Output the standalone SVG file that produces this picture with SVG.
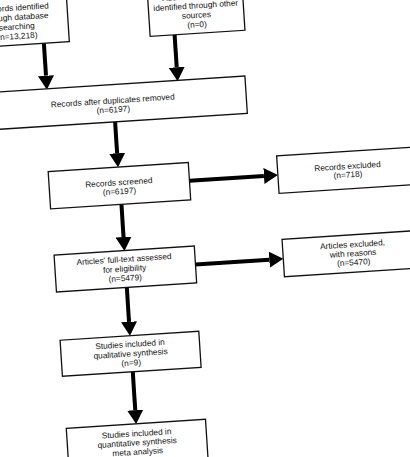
<svg xmlns="http://www.w3.org/2000/svg" width="410" height="457" viewBox="0 0 410 457">
<defs>
<marker id="ah" markerUnits="userSpaceOnUse" markerWidth="14" markerHeight="16" viewBox="0 0 14 16" refX="0" refY="8" orient="auto"><path d="M0,0 L14,8 L0,16 z" fill="#000"/></marker>
</defs>
<style>
.box{fill:#fff;stroke:#111;stroke-width:1.3}
.t{font-family:"Liberation Sans",Arial,sans-serif;font-size:8.3px;fill:#111;text-anchor:middle}
.c{stroke:#000;stroke-width:4;fill:none;marker-end:url(#ah)}
</style>
<rect width="410" height="457" fill="#fff"/>
<g transform="rotate(-3.7)">
<g id="connectors">
<path class="c" d="M41,46 L41,78.5"/>
<path class="c" d="M172,46 L172,78.5"/>
<path class="c" d="M107,129 L107,160.5"/>
<path class="c" d="M177.4,192.6 L252,192.6"/>
<path class="c" d="M108,211.7 L108,244.5"/>
<path class="c" d="M178,276.5 L252,276.5"/>
<path class="c" d="M108,295 L108,329.5"/>
<path class="c" d="M108.5,379.5 L108.5,418"/>
</g>
<g id="n-db">
<rect class="box" x="-37" y="-8" width="103.5" height="54"/>
<text class="t" x="15" y="11.5">Records identified</text>
<text class="t" x="15" y="21">through database</text>
<text class="t" x="15" y="30.5">searching</text>
<text class="t" x="15" y="40">(n=13,218)</text>
</g>
<g id="n-other">
<rect class="box" x="147.5" y="-8" width="95" height="54"/>
<text class="t" x="195" y="11.5">Additional records</text>
<text class="t" x="195" y="21">identified through other</text>
<text class="t" x="195" y="30.5">sources</text>
<text class="t" x="195" y="40">(n=0)</text>
</g>
<g id="n-dup">
<rect class="box" x="-25" y="91.6" width="264.5" height="37.4"/>
<text class="t" x="106" y="110.5">Records after duplicates removed</text>
<text class="t" x="106" y="119.5">(n=6197)</text>
</g>
<g id="n-screened">
<rect class="box" x="37" y="174.3" width="140.4" height="37.4"/>
<text class="t" x="106.8" y="192.5">Records screened</text>
<text class="t" x="106.8" y="201.5">(n=6197)</text>
</g>
<g id="n-excluded">
<rect class="box" x="266" y="173.5" width="140" height="37.5"/>
<text class="t" x="336" y="191.1">Records excluded</text>
<text class="t" x="336" y="199.6">(n=718)</text>
</g>
<g id="n-fulltext">
<rect class="box" x="37.5" y="258" width="140.5" height="37"/>
<text class="t" x="107" y="269.5">Articles' full-text assessed</text>
<text class="t" x="107" y="279">for eligibility</text>
<text class="t" x="107" y="288.5">(n=5479)</text>
</g>
<g id="n-art-excluded">
<rect class="box" x="266" y="257" width="140" height="37.5"/>
<text class="t" x="336" y="269.5">Articles excluded,</text>
<text class="t" x="336" y="278.5">with reasons</text>
<text class="t" x="336" y="287.5">(n=5470)</text>
</g>
<g id="n-qual">
<rect class="box" x="38" y="343.4" width="139" height="36.1"/>
<text class="t" x="107.5" y="354.7">Studies included in</text>
<text class="t" x="107.5" y="364.1">qualitative synthesis</text>
<text class="t" x="107.5" y="373.4">(n=9)</text>
</g>
<g id="n-quant">
<rect class="box" x="38.5" y="431.7" width="139.5" height="50"/>
<text class="t" x="108.3" y="444.2">Studies included in</text>
<text class="t" x="108.3" y="453.4">quantitative synthesis</text>
<text class="t" x="108.3" y="462.6">meta analysis</text>
</g>
</g>
</svg>
